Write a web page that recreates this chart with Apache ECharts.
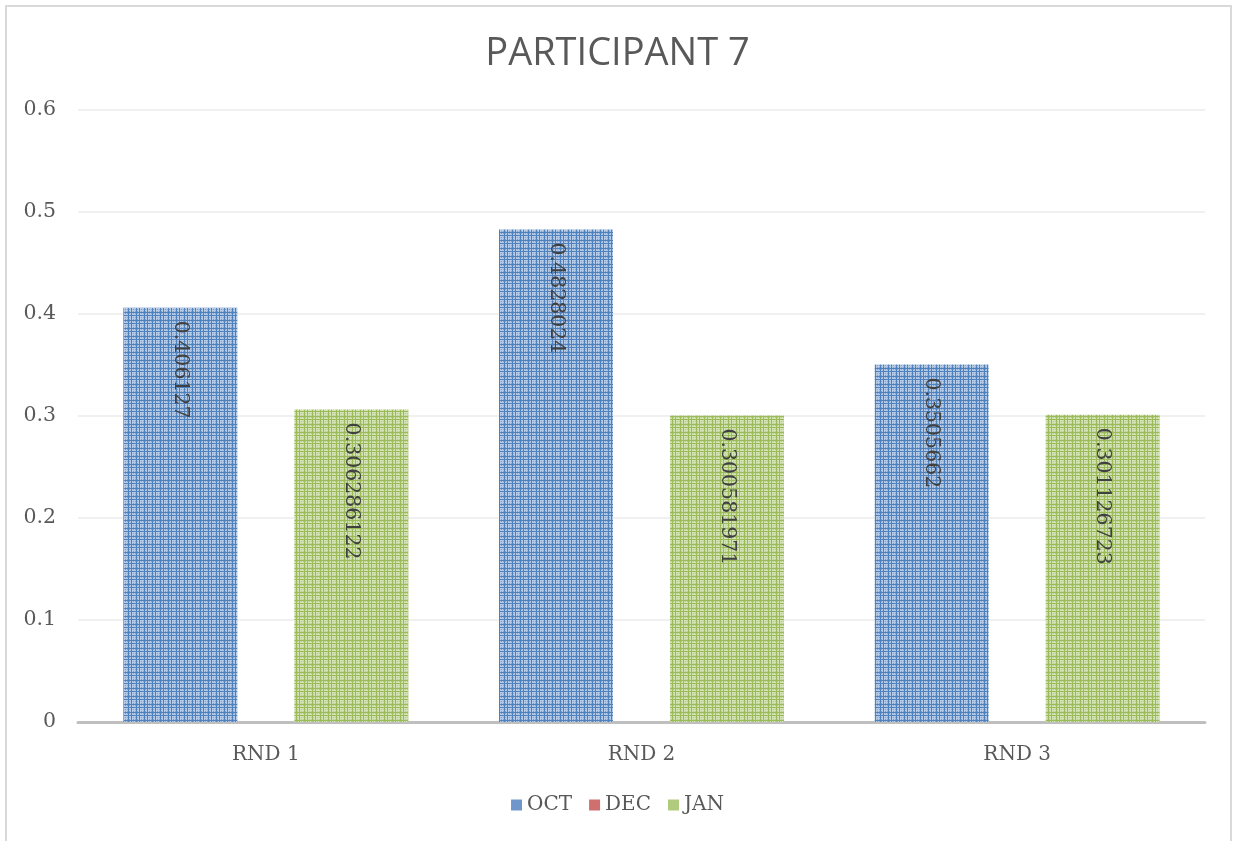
<!DOCTYPE html>
<html>
<head>
<meta charset="utf-8">
<script src="https://cdn.jsdelivr.net/npm/echarts@6/dist/echarts.min.js"></script>
<style>
html,body{margin:0;padding:0;background:#fff;}
#frame{position:absolute;left:5px;top:5px;width:1227px;height:850px;border:2px solid #d9d9d9;box-sizing:border-box;}
#chart{position:absolute;left:0;top:0;width:1235px;height:841px;}
</style>
</head>
<body>
<div id="frame"></div>
<div id="chart"></div>
<script>
const titleText = 'PARTICIPANT 7';
const categories = ['RND 1', 'RND 2', 'RND 3'];
const seriesNames = ['OCT', 'DEC', 'JAN'];
const octValues = [0.406127, 0.4828024, 0.3505662];
const decValues = [null, null, null];
const janValues = [0.306286122, 0.300581971, 0.301126723];
const yTicks = [0, 0.1, 0.2, 0.3, 0.4, 0.5, 0.6];

function makePattern(dark, light, mid) {
  const c = document.createElement('canvas');
  c.width = 8; c.height = 8;
  const ctx = c.getContext('2d');
  ctx.fillStyle = light; ctx.fillRect(0, 0, 8, 8);
  ctx.fillStyle = mid;
  for (let i = 0; i < 8; i += 2) for (let j = 0; j < 8; j += 2) ctx.fillRect(i + 1, j + 1, 1, 1);
  ctx.fillStyle = dark;
  ctx.fillRect(0, 0, 8, 1); ctx.fillRect(0, 3, 8, 1);
  ctx.fillRect(0, 0, 1, 8); ctx.fillRect(3, 0, 1, 8);
  return { image: c, repeat: 'repeat' };
}
const patterns = [
  makePattern('#4f81bd', '#b3c9e6', '#7fa3d2'),
  makePattern('#c0504d', '#e6b3b2', '#d37f7d'),
  makePattern('#9bbb59', '#d3e2b5', '#b7cf88')
];
const legendColors = ['#6f97cc', '#d0706e', '#b1cb7e'];

const chart = echarts.init(document.getElementById('chart'));
const serif = 'DejaVu Serif';
const label = {
  show: true,
  position: 'insideTop',
  rotate: -90,
  align: 'left',
  verticalAlign: 'middle',
  distance: 13,
  color: '#404040',
  fontFamily: serif,
  fontSize: 20.5,
  formatter: p => String(p.value)
};
const vals = [octValues, decValues, janValues];
chart.setOption({
  animation: false,
  title: {
    text: titleText, left: 'center', top: 30,
    textStyle: { fontFamily: 'Open Sans', fontSize: 38, fontWeight: 'normal', color: '#595959' }
  },
  legend: {
    bottom: 21, left: 'center', itemWidth: 11, itemHeight: 11, itemGap: 17,
    icon: 'rect',
    textStyle: { fontFamily: serif, fontSize: 20, color: '#595959' },
    data: seriesNames.map((n, i) => ({ name: n, itemStyle: { color: legendColors[i] } }))
  },
  grid: { left: 78, right: 30, top: 110, bottom: 119, containLabel: false },
  xAxis: {
    type: 'category', data: categories,
    axisLine: { lineStyle: { color: '#bfbfbf', width: 3 } },
    axisTick: { show: false },
    axisLabel: { fontFamily: serif, fontSize: 20, color: '#595959', margin: 23 }
  },
  yAxis: {
    type: 'value', min: 0, max: 0.6, interval: 0.1,
    axisLine: { show: false }, axisTick: { show: false },
    splitLine: { lineStyle: { color: '#ebebeb', width: 1.5 } },
    axisLabel: {
      fontFamily: serif, fontSize: 20.5, color: '#595959', margin: 22,
      formatter: v => { const t = yTicks.find(x => Math.abs(x - v) < 1e-9); return t === undefined ? '' : String(t); }
    }
  },
  series: seriesNames.map((n, i) => ({
    name: n, type: 'bar', data: vals[i],
    barWidth: 114, barGap: '-25%',
    itemStyle: { color: patterns[i] },
    label: label
  }))
});
</script>
</body>
</html>
